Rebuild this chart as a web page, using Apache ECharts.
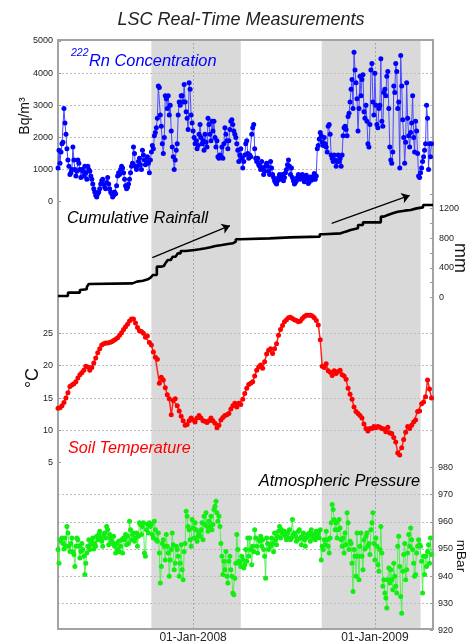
<!DOCTYPE html>
<html>
<head>
<meta charset="utf-8">
<script src="https://cdn.jsdelivr.net/npm/echarts@6/dist/echarts.min.js"></script>
<style>
  html, body { margin: 0; padding: 0; background: #fff; }
  #chart { width: 468px; height: 644px; }
</style>
</head>
<body>
<div id="chart"></div>
<script>
// all series start on 04-Apr-2007, one value every N days
const radonStep = 2;
const radon = [
  1050,1600,1200,1550,1800, 1850,2900,2450,2100,1650, 1300,1100,850,900,1000, 1700,1300,1000,800,950,
  1300,1200,1000,750,1000, 950,800,1100,900,700, 1100,1000,950,800,700, 550,400,300,200,150,
  250,300,400,550,650, 700,550,450,400,600, 750,550,400,300,250, 150,200,300,250,500,
  800,900,850,1000,1100, 1050,900,700,500,400, 450,550,700,900,1100, 1200,1700,1500,1100,1000,
  1100,1250,1350,1150,1000, 1600,1450,1300,1150,1250, 1400,1200,900,1300,1550, 1750,1650,2050,2150,2300,
  2600,3600,3550,2700,2350, 1800,1500,2000,3300,3200, 2900,3300,2700,3000,2200, 1700,1400,1000,1300,1600,
  1800,2700,3100,3000,3300, 3300,3100,3650,3100,2800, 2600,2250,3700,3500,2700, 2450,2200,2000,1800,1900,
  1650,1750,2100,2400,2000, 1800,1900,1600,2100,1850, 1700,2600,2400,2100,1900, 2500,2200,2500,2000,1700,
  1900,1400,1350,1450,1400, 1700,1350,1800,2300,2100, 1900,1650,1900,2250,2500, 2550,2400,2200,2100,2000,
  1800,1600,1250,1450,1650, 1350,1050,1250,1450,1800, 1900,1500,1350,1450,1400, 2100,2300,2400,1650,1350,
  1250,1350,1150,1100,1000, 1250,1050,850,950,1100, 1200,1100,950,850,1250, 1050,850,750,650,600,
  550,650,750,850,700, 750,850,650,750,900, 1000,1150,1300,1100,850, 1050,750,650,550,600,
  650,750,850,750,700, 800,850,750,620,720, 820,720,570,620,770, 670,770,700,880,700,
  800,1650,1750,1950,2150, 2050,1850,1750,2000,1800, 1700,1550,2350,2400,2100, 1450,1350,1250,1450,1300,
  1100,1250,1450,1250,1350, 1100,1450,2050,2300,2350, 2250,2050,2650,2750,3100, 3500,3800,2900,4650,4100,
  3700,3200,2200,2900,3900, 3300,3800,3950,2800,2600, 3000,2500,1800,1700,2400, 4100,4300,3100,2700,4000,
  3000,2400,2300,2900,3000, 4450,2500,2350,3400,3500, 3300,3900,4050,2900,1700, 1300,1200,1550,3600,3400,
  4300,4050,2900,3100,1050, 4550,3600,2550,2000,1200, 1850,3700,2600,2050,1700, 2150,2450,3300,2000,1550,
  2500,2200,1500,800,750, 900,1050,1250,1400,1600, 1800,3000,2600,1000,1800, 1400,1800
];

const tempStep = 4;
const soilTemp = [
  13.4,13.5,13.8,14.3,15.0,15.8,16.8,17.0,17.2,17.5,
  18.1,18.6,18.9,19.3,19.9,19.8,19.3,19.7,20.4,21.2,
  22.0,22.6,23.2,23.4,23.5,23.5,23.6,23.7,23.9,24.1,
  24.3,24.7,25.1,25.6,26.0,26.4,26.9,27.2,27.2,26.6,
  25.9,25.4,25.3,25.0,24.4,24.6,23.6,23.2,22.1,21.3,
  21.0,17.3,18.2,17.8,16.6,15.5,14.9,12.4,14.6,14.9,
  13.8,13.0,12.2,11.5,10.8,10.9,11.5,11.9,11.6,11.3,
  11.9,12.3,11.9,11.5,11.4,11.2,11.5,11.9,11.5,11.1,
  10.4,10.8,11.6,12.0,12.3,12.4,12.6,13.3,13.8,14.2,
  13.6,14.2,14.0,14.8,15.7,16.5,17.1,17.3,17.5,18.4,
  19.3,19.8,20.1,19.6,20.6,21.8,22.4,22.6,21.9,22.6,
  23.4,24.7,25.6,26.2,26.8,27.1,27.4,27.5,27.3,27.1,
  27.0,26.8,26.9,27.3,27.6,27.8,27.8,27.8,27.7,27.4,
  27.0,26.3,24.0,19.9,19.7,20.3,19.2,19.0,18.5,19.2,
  18.8,19.1,19.3,18.6,18.4,17.9,16.5,15.6,14.8,13.6,
  12.9,12.6,12.3,11.9,11.0,10.3,9.9,10.3,10.3,10.6,
  10.4,10.6,10.5,10.3,10.2,9.8,10.5,9.6,9.5,8.9,
  8.2,6.5,6.2,7.3,8.6,9.7,10.6,10.3,10.8,11.3,
  11.6,12.9,13.0,14.1,14.4,15.2,17.8,16.4,15.0
];

const pressureStep = 2;
const pressure = [
  949.8,944.8,953.4,952.8,954, 952,950,954,951,958.3, 955.9,951,949.1,952,954, 949,948,943.6,951,954,
  953.4,951,946.7,949.1,952, 949.8,947.3,940.6,944.8,948.5, 951,953.4,949.8,951.6,952.8, 954,950,952,951,954.7,
  953.4,955.3,956.5,954,952.8, 951,955.3,955.9,954,958.3, 957.1,951.6,955.3,954,952.8, 952,954.7,951,948.5,952,
  949.8,952.8,949,951,953.4, 948.5,954,953.4,955.3,951.6, 954.7,952,960.2,957.1,953.4, 955.3,955.9,952.8,954,955.9,
  951,954.7,959.6,959,955.3, 958.3,959.6,948.5,947.3,957.1, 959,955.9,959.6,958.3,959, 955.3,954,960.2,957.1,953.4,
  952.8,955.9,948.5,937.5,943.6, 952,953.4,951,946,955.3, 951,948.5,940,946,949.8, 955.9,951.6,942.4,944.8,951,
  949.8,947.3,940,944.8,951.6, 942.4,938.7,949,952,963.9, 962,958.3,957.1,953.4,951, 960.8,957.7,954,959.6,957.1,
  952.8,954.7,955.9,954.7,957.1, 959.6,953.4,962,959,963.3, 958.3,956.5,960.2,958.3,962, 957.1,959,964.5,965.7,967.5,
  963.3,960.2,962,958.3,952, 947.3,940.6,945.5,942.4,949.1, 940,937.5,945.5,947.3,942.4, 940,933.8,933.2,939.3,944.8,
  955.3,949.8,945.5,944.8,943.6, 947.3,946,943,944.2,949.8, 945.5,954,947.3,954,949.8, 944.2,951,949,957.1,954,
  951,948.5,953.4,952.8,954.7, 951,953.4,949.8,947.3,939.3, 954,952,949.8,951.6,951, 954,952,949,955.9,953.4,
  951.6,954.7,956.5,958.3,954, 957.1,955.9,955.3,956.5,954.7, 953.4,955.9,954,957.1,953.4, 954,960.8,955.3,955.9,954.7,
  952.8,953.4,956.5,957.1,954, 951.6,954.7,955.9,953.4,951, 954,955.3,954.7,955.9,952.8, 957.1,955.3,954,955.3,953.4,
  956.5,954.7,955.9,954,957.1, 946,951,949.8,953.4,951.6, 956.5,953.4,951,948.5,954, 959.6,966.3,964.5,960.8,957.1,
  959.6,954,957.1,960.8,957.7, 953.4,951,954,948.5,955.9, 951.6,963.3,959.6,949.8,952.8, 952,944.8,934.4,949.8,947.3,
  940,955.9,947.3,938.7,951, 955.9,947.3,942.4,953.4,950, 954.7,955.9,951,952,948, 957.1,959.6,963.3,952,946,
  954,951,944.2,941.8,949.8, 958.3,948.5,936.3,938.7,933.8, 932,928.3,938.7,943,937.5, 942.4,938.7,935,944.8,940,
  936.3,933.8,951,954.7,943.6, 932.6,926.4,941.8,948,952, 938.7,942.4,948.5,955.3,951, 957.7,953.4,949.8,944.8,940,
  940.6,948.5,951,953.4,951.6, 951,945.5,933.8,947.3,940.6, 947.3,943.6,949,951.6,944.8, 954,948
];

// cumulative rainfall: day offset where a new total starts, and that total (mm)
const rainDay = [0,20,44,48,58,62,66,150,159,171,181,187,191,199,207,213,217,221,227,231,237,
  241,247,257,275,285,297,307,317,330,342,352,358,366,426,467,527,535,569,579,589,604,
  614,650,656,664,674,684,698,710,722,735,755];
const rainTotal = [18,63,99,108,140,180,189,212,225,243,270,289,302,415,424,451,469,505,528,550,573,
  595,627,640,650,663,677,695,708,722,731,753,785,798,812,821,853,866,889,911,934,979,
  1015,1092,1114,1137,1159,1173,1182,1204,1218,1249,1249];

const wetSeasons = [['2007-10-09', '2008-04-06'], ['2008-09-16', '2009-04-03']];
const yearTicks = ['2008-01-01', '2009-01-01'];
const rainArrows = [
  [['2007-10-11', 536], ['2008-03-15', 970]],
  [['2008-10-06', 1002], ['2009-03-12', 1379]]
];
const months = ['Jan','Feb','Mar','Apr','May','Jun','Jul','Aug','Sep','Oct','Nov','Dec'];

function dayTime(d) { return new Date(2007, 3, 4 + d).getTime(); }
function toTime(s) {
  const p = s.split('-').map(Number);
  return new Date(p[0], p[1] - 1, p[2]).getTime();
}
function byStep(values, step) { return values.map((v, i) => [dayTime(i * step), v]); }

const xMin = dayTime(0);
const xMax = dayTime(755);
const L = 58, R = 35;
const labelFont = { fontFamily: 'Liberation Sans', fontSize: 9, color: '#222', formatter: v => String(v) };
const gridDash = { color: '#bdbdbd', type: [2, 2], width: 1 };
const fam = '"Liberation Sans", Arial, sans-serif';

function timeAxis(i) {
  return { type: 'value', gridIndex: i, min: xMin, max: xMax, show: false };
}
function label(text, x, y, font, fill, align, rotation) {
  return {
    type: 'text', x: x, y: y, z: 100, rotation: rotation || 0,
    style: { text: text, font: font, fill: fill, align: align || 'left', verticalAlign: 'middle' }
  };
}

const chart = echarts.init(document.getElementById('chart'));
chart.setOption({
  animation: false,
  backgroundColor: '#fff',
  grid: [
    { left: L, right: R, top: 40, bottom: 13, show: true, z: 3,
      backgroundColor: 'transparent', borderColor: '#a3a3a3', borderWidth: 2 },
    { left: L, right: R, top: 41, height: 160.7 },
    { left: L, right: R, top: 193.9, height: 103.4 },
    { left: L, right: R, top: 301, height: 161.7 },
    { left: L, right: R, top: 467.3, height: 163.4 }
  ],
  xAxis: [
    {
      type: 'value', gridIndex: 0, min: xMin, max: xMax,
      axisLine: { show: false },
      splitLine: { show: false },
      axisTick: { customValues: yearTicks.map(toTime), inside: true, length: 4, lineStyle: { color: '#999' } },
      axisLabel: {
        customValues: yearTicks.map(toTime), margin: 3,
        fontFamily: 'Liberation Sans', fontSize: 12, color: '#222',
        formatter: v => {
          const d = new Date(v);
          return String(d.getDate()).padStart(2, '0') + '-' + months[d.getMonth()] + '-' + d.getFullYear();
        }
      }
    },
    timeAxis(1), timeAxis(2), timeAxis(3), timeAxis(4)
  ],
  yAxis: [
    { type: 'value', gridIndex: 0, min: 0, max: 1, show: false },
    {
      type: 'value', gridIndex: 1, position: 'left', min: 0, max: 5000, interval: 1000, z: 1.5,
      axisLine: { show: false },
      axisTick: { show: true, inside: true, length: 3, lineStyle: { color: '#999' } },
      axisLabel: Object.assign({ margin: 5 }, labelFont),
      splitLine: { show: true, showMinLine: false, showMaxLine: false, lineStyle: gridDash }
    },
    {
      type: 'value', gridIndex: 2, position: 'right', min: 0, max: 1400, interval: 400, z: 1.5,
      axisLine: { show: false },
      axisTick: { show: true, inside: true, length: 3, lineStyle: { color: '#999' } },
      minorTick: { show: true, splitNumber: 2, length: 3, lineStyle: { color: '#999' } },
      axisLabel: Object.assign({ margin: 6, showMaxLabel: false }, labelFont),
      splitLine: { show: false }
    },
    {
      type: 'value', gridIndex: 3, position: 'left', min: 5, max: 30, interval: 5, z: 1.5,
      axisLine: { show: false },
      axisTick: { show: true, inside: true, length: 3, lineStyle: { color: '#999' } },
      axisLabel: Object.assign({ margin: 5, showMaxLabel: false }, labelFont),
      splitLine: { show: true, showMinLine: false, showMaxLine: false, lineStyle: gridDash }
    },
    {
      type: 'value', gridIndex: 4, position: 'right', min: 920, max: 980, interval: 10, z: 1.5,
      axisLine: { show: false },
      axisTick: { show: true, inside: true, length: 3, lineStyle: { color: '#999' } },
      axisLabel: Object.assign({ margin: 5 }, labelFont),
      splitLine: { show: true, showMinLine: false, showMaxLine: false, lineStyle: gridDash }
    }
  ],
  series: [
    {
      type: 'line', xAxisIndex: 0, yAxisIndex: 0,
      data: [[xMin, 0.5], [xMax, 0.5]], showSymbol: false, lineStyle: { width: 0 }, silent: true,
      markArea: {
        silent: true, itemStyle: { color: '#d9d9d9' },
        data: wetSeasons.map(s => [{ xAxis: toTime(s[0]) }, { xAxis: toTime(s[1]) }])
      },
      markLine: {
        silent: true, z: 1.5, symbol: 'none', label: { show: false },
        lineStyle: { color: '#a8a8a8', type: [2, 2], width: 1 },
        data: yearTicks.map(t => ({ xAxis: toTime(t) }))
      }
    },
    {
      name: 'Radon', type: 'line', xAxisIndex: 1, yAxisIndex: 1,
      data: byStep(radon, radonStep),
      symbol: 'circle', symbolSize: 5,
      itemStyle: { color: '#0000ff' },
      lineStyle: { color: '#4a4aff', width: 1 }
    },
    {
      name: 'Rainfall', type: 'line', xAxisIndex: 2, yAxisIndex: 2, step: 'end',
      data: rainDay.map((d, i) => [dayTime(d), rainTotal[i]]),
      showSymbol: false,
      lineStyle: { color: '#000', width: 2.6 },
      markLine: {
        silent: true, symbol: ['none', 'arrow'], symbolSize: 8,
        label: { show: false },
        lineStyle: { color: '#000', width: 1.3, type: 'solid' },
        data: rainArrows.map(a => [
          { coord: [toTime(a[0][0]), a[0][1]] },
          { coord: [toTime(a[1][0]), a[1][1]] }
        ])
      }
    },
    {
      name: 'Soil Temperature', type: 'line', xAxisIndex: 3, yAxisIndex: 3,
      data: byStep(soilTemp, tempStep),
      symbol: 'circle', symbolSize: 5,
      itemStyle: { color: '#ff0000' },
      lineStyle: { color: '#ff2020', width: 1.5 }
    },
    {
      name: 'Pressure', type: 'line', xAxisIndex: 4, yAxisIndex: 4,
      data: byStep(pressure, pressureStep),
      symbol: 'circle', symbolSize: 5,
      itemStyle: { color: '#11ee11' },
      lineStyle: { color: '#55f055', width: 1 }
    }
  ],
  graphic: [
    label('LSC Real-Time Measurements', 241, 20, 'italic 18px ' + fam, '#222', 'center'),
    label('222', 71, 53, 'italic 10.5px ' + fam, '#0000ff'),
    label('Rn Concentration', 89, 61.5, 'italic 16.4px ' + fam, '#0000ff'),
    label('Cumulative Rainfall', 67, 218.5, 'italic 16.4px ' + fam, '#000'),
    label('Soil Temperature', 68, 448, 'italic 16.2px ' + fam, '#ff0000'),
    label('Atmospheric Pressure', 420, 481, 'italic 16.4px ' + fam, '#000', 'right'),
    label('Bq/m³', 25, 116, '14px ' + fam, '#111', 'center', Math.PI / 2),
    label('°C', 33, 378, '18px ' + fam, '#111', 'center', Math.PI / 2),
    label('mm', 460, 258, '18px ' + fam, '#111', 'center', -Math.PI / 2),
    label('mBar', 461, 556, '13.5px ' + fam, '#111', 'center', -Math.PI / 2)
  ]
});
</script>
</body>
</html>
